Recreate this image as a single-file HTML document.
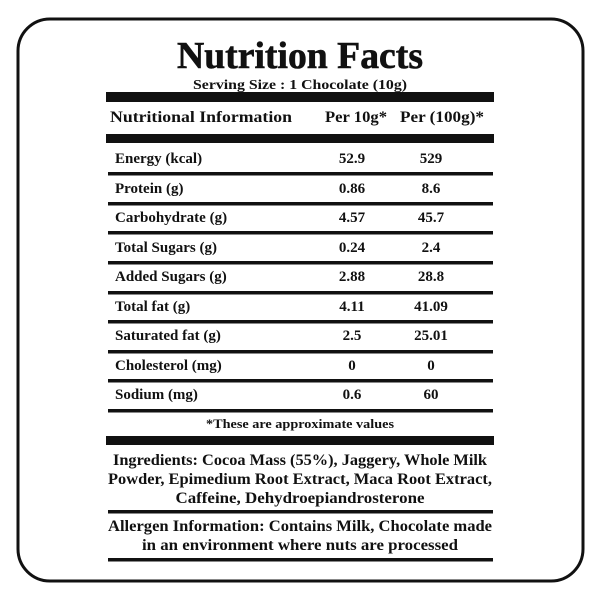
<!DOCTYPE html>
<html><head><style>
html,body{margin:0;padding:0;background:#fff;}
svg{display:block;}
text{font-family:"Liberation Serif",serif;font-weight:bold;fill:#111;}
</style></head><body>
<svg width="600" height="600" viewBox="0 0 600 600">
<rect x="18" y="19" width="565" height="562" rx="32" fill="none" stroke="#111" stroke-width="3"/>
<text x="300" y="68" font-size="38" text-anchor="middle" textLength="246" lengthAdjust="spacingAndGlyphs" stroke="#111" stroke-width="0.6">Nutrition Facts</text>
<text x="300" y="89" font-size="14" text-anchor="middle" textLength="214" lengthAdjust="spacingAndGlyphs">Serving Size : 1 Chocolate (10g)</text>
<rect x="106" y="92" width="388" height="10" fill="#111"/>
<text x="110" y="122" font-size="16" textLength="182" lengthAdjust="spacingAndGlyphs">Nutritional Information</text>
<text x="325" y="122" font-size="16" textLength="62" lengthAdjust="spacingAndGlyphs">Per 10g*</text>
<text x="400" y="122" font-size="16" textLength="84" lengthAdjust="spacingAndGlyphs">Per (100g)*</text>
<rect x="106" y="134" width="388" height="9" fill="#111"/>
<g font-size="15">
<text x="115" y="163">Energy (kcal)</text><text x="352" y="163" text-anchor="middle">52.9</text><text x="431" y="163" text-anchor="middle">529</text>
<text x="115" y="193">Protein (g)</text><text x="352" y="193" text-anchor="middle">0.86</text><text x="431" y="193" text-anchor="middle">8.6</text>
<text x="115" y="222">Carbohydrate (g)</text><text x="352" y="222" text-anchor="middle">4.57</text><text x="431" y="222" text-anchor="middle">45.7</text>
<text x="115" y="252">Total Sugars (g)</text><text x="352" y="252" text-anchor="middle">0.24</text><text x="431" y="252" text-anchor="middle">2.4</text>
<text x="115" y="281">Added Sugars (g)</text><text x="352" y="281" text-anchor="middle">2.88</text><text x="431" y="281" text-anchor="middle">28.8</text>
<text x="115" y="311">Total fat (g)</text><text x="352" y="311" text-anchor="middle">4.11</text><text x="431" y="311" text-anchor="middle">41.09</text>
<text x="115" y="340">Saturated fat (g)</text><text x="352" y="340" text-anchor="middle">2.5</text><text x="431" y="340" text-anchor="middle">25.01</text>
<text x="115" y="370">Cholesterol (mg)</text><text x="352" y="370" text-anchor="middle">0</text><text x="431" y="370" text-anchor="middle">0</text>
<text x="115" y="399">Sodium (mg)</text><text x="352" y="399" text-anchor="middle">0.6</text><text x="431" y="399" text-anchor="middle">60</text>
</g>
<g fill="#111">
<rect x="108" y="172" width="385" height="3.5"/>
<rect x="108" y="202" width="385" height="3.5"/>
<rect x="108" y="231" width="385" height="3.5"/>
<rect x="108" y="261" width="385" height="3.5"/>
<rect x="108" y="291" width="385" height="3.5"/>
<rect x="108" y="320" width="385" height="3.5"/>
<rect x="108" y="350" width="385" height="3.5"/>
<rect x="108" y="379" width="385" height="3.5"/>
<rect x="108" y="409" width="385" height="3.5"/>
</g>
<text x="300" y="428" font-size="12.5" text-anchor="middle" textLength="188" lengthAdjust="spacingAndGlyphs">*These are approximate values</text>
<rect x="106" y="436" width="388" height="9" fill="#111"/>
<g font-size="15.5" text-anchor="middle">
<text x="300" y="465" textLength="374" lengthAdjust="spacingAndGlyphs">Ingredients: Cocoa Mass (55%), Jaggery, Whole Milk</text>
<text x="300" y="484" textLength="384" lengthAdjust="spacingAndGlyphs">Powder, Epimedium Root Extract, Maca Root Extract,</text>
<text x="300" y="503" textLength="249" lengthAdjust="spacingAndGlyphs">Caffeine, Dehydroepiandrosterone</text>
<text x="300" y="531" textLength="384" lengthAdjust="spacingAndGlyphs">Allergen Information: Contains Milk, Chocolate made</text>
<text x="300" y="550" textLength="316" lengthAdjust="spacingAndGlyphs">in an environment where nuts are processed</text>
</g>
<rect x="108" y="510" width="385" height="3.5" fill="#111"/>
<rect x="108" y="558" width="385" height="3.5" fill="#111"/>
</svg>
</body></html>
